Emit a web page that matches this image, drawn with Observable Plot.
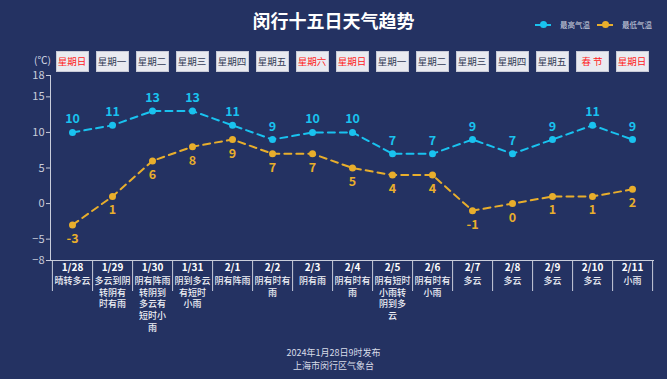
<!DOCTYPE html>
<html><head><meta charset="utf-8">
<script src="https://cdn.jsdelivr.net/npm/d3@7"></script>
<script src="https://cdn.jsdelivr.net/npm/@observablehq/plot@0.6"></script>
<style>
html,body{margin:0;padding:0;background:#243262;}
#wrap{position:relative;width:667px;height:379px;overflow:hidden;background:#243262;font-family:"Noto Sans CJK SC","Noto Sans",sans-serif;}
#wrap svg{position:absolute;left:0;top:0;}
.title{position:absolute;left:0;width:667px;top:7px;text-align:center;color:#fff;font-size:18px;font-weight:bold;line-height:26px;}
.leg{position:absolute;top:19px;font-size:7.5px;color:#d0d4e0;line-height:12px;white-space:nowrap;}
.leg .ln{position:absolute;top:5px;width:16px;height:2px;}
.leg .dt{position:absolute;top:2px;left:4.5px;width:7px;height:7px;border-radius:50%;}
.leg span.t{position:absolute;left:25px;top:0;}
.wk{position:absolute;top:51px;width:33px;height:21px;background:#e9eaf0;border:1px solid #c8cad6;box-sizing:border-box;font-size:9.5px;line-height:19px;text-align:center;color:#333a55;}
.unit{position:absolute;left:34px;top:52px;font-size:10px;color:#d8dce8;}
.foot{position:absolute;left:0;width:667px;text-align:center;font-size:9px;color:#d8dce8;line-height:12.5px;top:347px;}
</style></head>
<body><div id="wrap"></div>
<script>
const dates = ["1/28","1/29","1/30","1/31","2/1","2/2","2/3","2/4","2/5","2/6","2/7","2/8","2/9","2/10","2/11"];
const weekdays = ["星期日","星期一","星期二","星期三","星期四","星期五","星期六","星期日","星期一","星期二","星期三","星期四","星期五","春 节","星期日"];
const redDays = [true,false,false,false,false,false,true,true,false,false,false,false,false,true,true];
const weather = ["晴转多云","多云到阴\n转阴有\n时有雨","阴有阵雨\n转阴到\n多云有\n短时小\n雨","阴到多云\n有短时\n小雨","阴有阵雨","阴有时有\n雨","阴有雨","阴有时有\n雨","阴有短时\n小雨转\n阴到多\n云","阴有时有\n小雨","多云","多云","多云","多云","小雨"];
const highs = [10,11,13,13,11,9,10,10,7,7,9,7,9,11,9];
const lows = [-3,1,6,8,9,7,7,5,4,4,-1,0,1,1,2];
const yTicks = [18,15,10,5,0,-5,-8];
const seriesNames = ["最高气温","最低气温"];

const HI = "#19c2ef", LO = "#e8ae2c", AX = "#c9cddb";
const W = 667, H = 379, mL = 50, mR = 14, mT = 75, mB = 119;
const bw = (W - mL - mR) / dates.length;
const data = dates.map((d,i)=>({date:d, high:highs[i], low:lows[i], weather:weather[i]}));

const plot = Plot.plot({
  width: W, height: H,
  marginLeft: mL, marginRight: mR, marginTop: mT, marginBottom: mB,
  style: {background:"transparent", color: AX, fontFamily:'"Noto Sans CJK SC","Noto Sans",sans-serif', fontSize:"11px"},
  x: {type:"band", domain: dates, padding: 0, axis: null, label: null},
  y: {domain:[-8,18], axis: null, label: null},
  marks: [
    Plot.frame({anchor:"left", stroke: AX}),
    Plot.frame({anchor:"bottom", stroke: AX}),
    Plot.axisY({ticks: yTicks, tickSize: 4, tickPadding: 2, fontSize: 11, color: AX, label: null}),
    Plot.axisX({ticks: dates, tickSize: 31, dx: bw/2, tickFormat: () => "", stroke: AX, label: null}),
    Plot.axisX({ticks: [dates[0]], tickSize: 31, dx: -bw/2, tickFormat: () => "", stroke: AX, label: null}),
    Plot.line(data, {x:"date", y:"high", stroke: HI, strokeWidth: 2, strokeDasharray: "7,5"}),
    Plot.line(data, {x:"date", y:"low", stroke: LO, strokeWidth: 2, strokeDasharray: "7,5"}),
    Plot.dot(data, {x:"date", y:"high", r: 3.5, fill: HI}),
    Plot.dot(data, {x:"date", y:"low", r: 3.5, fill: LO}),
    Plot.text(data, {x:"date", y:"high", text: d=>String(d.high), dy: -13, fill: HI, fontSize: 12.5, fontWeight: "bold"}),
    Plot.text(data, {x:"date", y:"low", text: d=>String(d.low), dy: 14, fill: LO, fontSize: 12.5, fontWeight: "bold"}),
    Plot.text(data, {x:"date", frameAnchor:"bottom", text:"date", dy: 10.5, fill:"#fff", fontSize: 10, fontWeight:"bold"}),
    Plot.text(data, {x:"date", frameAnchor:"bottom", text:"weather", dy: 15, lineAnchor:"top", lineHeight: 1.3, fill:"#eef0f6", fontSize: 9, fontWeight: 500})
  ]
});
const wrap = document.getElementById("wrap");
wrap.appendChild(plot);

const xs = plot.scale("x");
weekdays.forEach((w,i)=>{
  const c = xs.apply(dates[i]) + xs.bandwidth/2;
  const el = document.createElement("div");
  el.className = "wk";
  el.style.left = (c - 16.5) + "px";
  el.style.color = redDays[i] ? "#ff1a1a" : "#333a55";
  el.textContent = w;
  wrap.appendChild(el);
});

const t = document.createElement("div"); t.className="title"; t.textContent="闵行十五日天气趋势"; wrap.appendChild(t);
const u = document.createElement("div"); u.className="unit"; u.textContent="(℃)"; wrap.appendChild(u);
[[535,HI],[597,LO]].forEach(([x,c],i)=>{
  const l = document.createElement("div"); l.className="leg"; l.style.left = x+"px";
  l.innerHTML = `<div class="ln" style="background:${c}"></div><div class="dt" style="background:${c}"></div><span class="t">${seriesNames[i]}</span>`;
  wrap.appendChild(l);
});
const f = document.createElement("div"); f.className="foot";
f.innerHTML = "2024年1月28日9时发布<br>上海市闵行区气象台"; wrap.appendChild(f);
</script></body></html>
